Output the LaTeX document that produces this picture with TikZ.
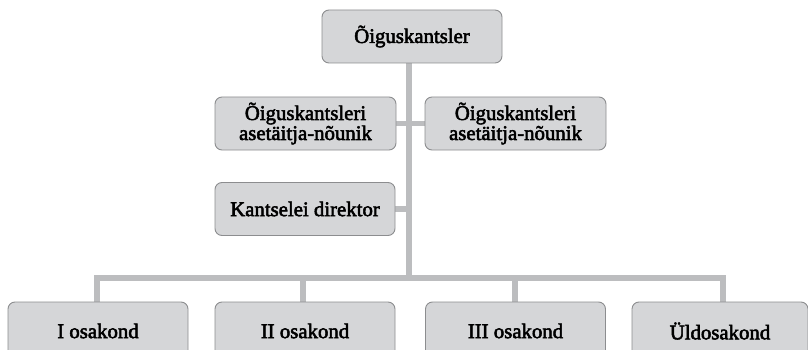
\documentclass[tikz,border=0pt]{standalone}
\usepackage{fontspec}
\usetikzlibrary{backgrounds}
\newfontfamily\boxfont{Liberation Serif}[FakeBold=2.5]
\definecolor{boxfill}{HTML}{D5D6D8}
\definecolor{boxline}{HTML}{8C8D8F}
\definecolor{conn}{HTML}{BCBDBF}
\begin{document}
\begin{tikzpicture}[x=1pt,y=-1pt,
  orgbox/.style={draw=boxline,line width=0.9pt,fill=boxfill,rounded corners=7pt,
    minimum width=180pt,minimum height=53pt,inner sep=0pt,align=center,
    font=\boxfont\fontsize{20.8}{22}\selectfont},
  link/.style={draw=conn,line width=5.5pt}]
\useasboundingbox (0,0) rectangle (808,350);
\node[orgbox] (top) at (412,36.5) {Õiguskantsler};
\node[orgbox,minimum width=181pt] (asL) at (305.5,123.5) {Õiguskantsleri\\[-2pt]asetäitja-nõunik};
\node[orgbox,minimum width=181pt] (asR) at (515.5,123.5) {Õiguskantsleri\\[-2pt]asetäitja-nõunik};
\node[orgbox] (dir) at (305,209) {Kantselei direktor};
\node[orgbox,minimum height=58pt] (o1) at (98,331) {I osakond};
\node[orgbox,minimum height=58pt] (o2) at (305,331) {II osakond};
\node[orgbox,minimum height=58pt] (o3) at (515.5,331) {III osakond};
\node[orgbox,minimum height=58pt,minimum width=176pt] (o4) at (720,331) {Üldosakond};
\coordinate (b0) at (409,278);
\coordinate (b1) at (97,278);
\coordinate (b2) at (303,278);
\coordinate (b3) at (515,278);
\coordinate (b4) at (723,278);
\begin{scope}[on background layer]
\path[link] (top.south -| b0) -- (b0);
\path[link] (asL.east) -- (asR.west);
\path[link] (dir.east) -- (dir.east -| b0);
\path[link] ([xshift=-2.75pt]b1) -- ([xshift=2.75pt]b4);
\path[link] (b1) -- (b1 |- o1.north);
\path[link] (b2) -- (b2 |- o2.north);
\path[link] (b3) -- (b3 |- o3.north);
\path[link] (b4) -- (b4 |- o4.north);
\end{scope}
\end{tikzpicture}
\end{document}
